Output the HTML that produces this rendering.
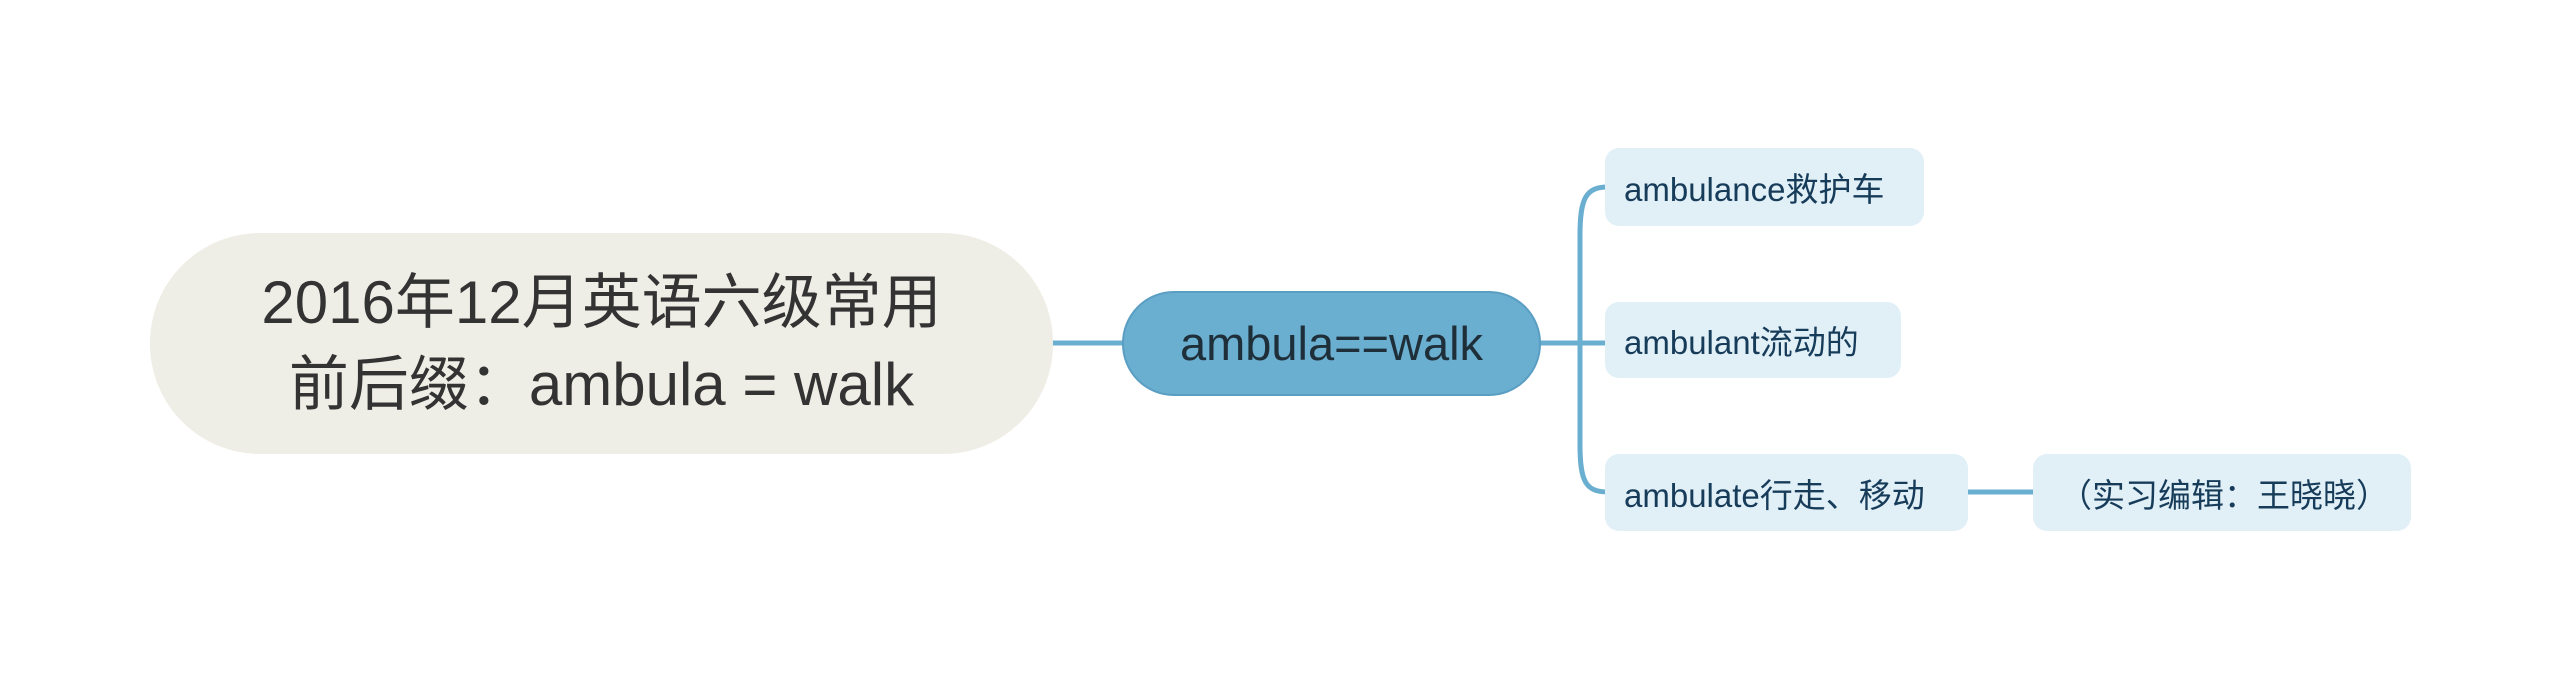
<!DOCTYPE html>
<html><head><meta charset="utf-8"><style>
body{margin:0;width:2560px;height:680px;background:#fff;position:relative;overflow:hidden;font-family:"Liberation Sans","Noto Sans CJK SC",sans-serif}
.n{position:absolute;display:flex;align-items:center;justify-content:center;box-sizing:border-box;text-align:center;white-space:nowrap}
.c{background:#e1eff7;border-radius:14px;color:#173c5a;font-size:33px;justify-content:flex-start;padding-left:19px}
</style></head><body>
<svg width="2560" height="680" style="position:absolute;left:0;top:0">
<g stroke="#6aaed0" stroke-width="5" fill="none">
<line x1="1050" y1="343" x2="1125" y2="343"/>
<line x1="1538" y1="343" x2="1608" y2="343"/>
<path d="M1608,187 C1586,187 1580,198 1580,235 L1580,445 C1580,482 1586,492 1608,492"/>
<line x1="1965" y1="492" x2="2036" y2="492"/>
</g></svg>
<div class="n" style="left:150px;top:233px;width:903px;height:221px;background:#efeee6;border-radius:110px;color:#333;font-size:60px;line-height:82px">2016年12月英语六级常用<br>前后缀：ambula = walk</div>
<div class="n" style="left:1122px;top:291px;width:419px;height:105px;background:#6aaed0;border:2px solid #5a9fc3;border-radius:52px;color:#1f2f3a;font-size:47px">ambula==walk</div>
<div class="n c" style="left:1605px;top:148px;width:319px;height:78px">ambulance救护车</div>
<div class="n c" style="left:1605px;top:302px;width:296px;height:76px">ambulant流动的</div>
<div class="n c" style="left:1605px;top:454px;width:363px;height:77px">ambulate行走、移动</div>
<div class="n c" style="left:2033px;top:454px;width:378px;height:77px;padding-left:26px">（实习编辑：王晓晓）</div>
</body></html>
